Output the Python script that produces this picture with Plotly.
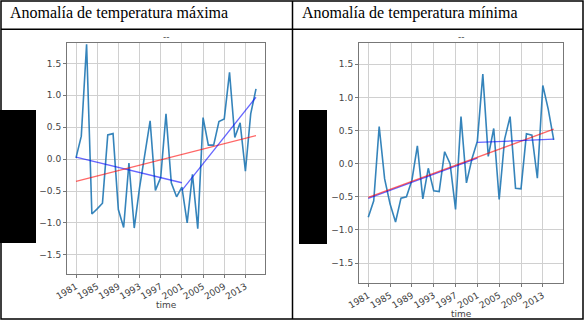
import plotly.graph_objects as go

W, H = 584, 321

years = list(range(1981, 2016))
tmax_anom = [0.02, 0.36, 1.80, -0.86, -0.78, -0.69, 0.38, 0.40, -0.79, -1.07,
             -0.06, -1.08, -0.45, 0.05, 0.60, -0.49, -0.29, 0.71, -0.37, -0.59,
             -0.44, -1.00, -0.24, -1.09, 0.65, 0.22, 0.22, 0.59, 0.63, 1.36,
             0.34, 0.57, -0.19, 0.71, 1.10]
tmin_anom = [-0.81, -0.56, 0.56, -0.23, -0.61, -0.88, -0.52, -0.50, -0.25, 0.27,
             -0.53, -0.07, -0.41, -0.42, 0.18, 0.00, -0.69, 0.71, -0.29, 0.07,
             0.34, 1.35, 0.11, 0.53, -0.54, 0.37, 0.71, -0.37, -0.38, 0.45,
             0.43, -0.22, 1.18, 0.82, 0.36]

# trend lines (endpoints)
tmax_trend_x = [1981, 2015]
tmax_trend_y = [-0.35, 0.37]
tmax_seg1_x = [1981, 2001]
tmax_seg1_y = [0.03, -0.37]
tmax_seg2_x = [2001, 2015]
tmax_seg2_y = [-0.49, 0.97]

tmin_trend_x = [1981, 2015]
tmin_trend_y = [-0.51, 0.52]
tmin_seg1_x = [1981, 2001]
tmin_seg1_y = [-0.525, 0.085]
tmin_seg2_x = [2001, 2015]
tmin_seg2_y = [0.32, 0.37]

xtick_vals = [1981, 1985, 1989, 1993, 1997, 2001, 2005, 2009, 2013]
ytick_vals = [-1.5, -1.0, -0.5, 0.0, 0.5, 1.0, 1.5]
ytick_text = ["\u22121.5", "\u22121.0", "\u22120.5", "0.0", "0.5", "1.0", "1.5"]

headers = ["Anomalía de temperatura máxima", "Anomalía de temperatura mínima"]

def px(x):
    return x / W

def py(y):
    return 1 - y / H

fig = go.Figure()

panels = [
    (tmax_anom, tmax_trend_x, tmax_trend_y, tmax_seg1_x, tmax_seg1_y, tmax_seg2_x, tmax_seg2_y, "x", "y"),
    (tmin_anom, tmin_trend_x, tmin_trend_y, tmin_seg1_x, tmin_seg1_y, tmin_seg2_x, tmin_seg2_y, "x2", "y2"),
]
for vals, tx, ty, s1x, s1y, s2x, s2y, xa, ya in panels:
    fig.add_trace(go.Scatter(x=years, y=vals, mode="lines", xaxis=xa, yaxis=ya,
                             line=dict(color="rgba(31,119,180,0.9)", width=1.6), showlegend=False))
    fig.add_trace(go.Scatter(x=s1x, y=s1y, mode="lines", xaxis=xa, yaxis=ya,
                             line=dict(color="rgba(0,0,255,0.6)", width=1.3), showlegend=False))
    fig.add_trace(go.Scatter(x=tx, y=ty, mode="lines", xaxis=xa, yaxis=ya,
                             line=dict(color="rgba(255,0,0,0.6)", width=1.3), showlegend=False))
    fig.add_trace(go.Scatter(x=s2x, y=s2y, mode="lines", xaxis=xa, yaxis=ya,
                             line=dict(color="rgba(0,0,255,0.6)", width=1.3), showlegend=False))

axfont = dict(family="DejaVu Sans", size=9, color="#444")
common_x = dict(range=[1979.3, 2016.7], tickvals=xtick_vals, tickangle=-30, automargin=False,
                showgrid=True, gridcolor="#d0d0d0", gridwidth=1,
                showline=True, mirror=True, linecolor="#777", linewidth=1,
                ticks="outside", ticklen=3, tickcolor="#777", tickfont=axfont, zeroline=False)
common_y = dict(range=[-1.80, 1.82], tickvals=ytick_vals, ticktext=ytick_text, automargin=False,
                showgrid=True, gridcolor="#d0d0d0", gridwidth=1,
                showline=True, mirror=True, linecolor="#777", linewidth=1,
                ticks="outside", ticklen=3, tickcolor="#777", tickfont=axfont, zeroline=False)

fig.update_layout(
    width=W, height=H, margin=dict(l=0, r=0, t=0, b=0, pad=0, autoexpand=False),
    paper_bgcolor="white", plot_bgcolor="white",
    xaxis=dict(domain=[px(67), px(265)], anchor="y", **common_x),
    yaxis=dict(domain=[py(274), py(43)], anchor="x", **common_y),
    xaxis2=dict(domain=[px(359), px(563)], anchor="y2", **common_x),
    yaxis2=dict(domain=[py(283), py(43)], anchor="x2", **common_y),
)

shapes = []
# table borders
line = dict(color="black", width=1.5)
shapes.append(dict(type="rect", xref="paper", yref="paper", x0=px(1), x1=px(583), y0=py(319), y1=py(1), line=line))
shapes.append(dict(type="line", xref="paper", yref="paper", x0=px(292.5), x1=px(292.5), y0=py(319), y1=py(1), line=line))
shapes.append(dict(type="line", xref="paper", yref="paper", x0=px(1), x1=px(583), y0=py(29.3), y1=py(29.3), line=line))
# black boxes
shapes.append(dict(type="rect", xref="paper", yref="paper", x0=px(0), x1=px(36), y0=py(243), y1=py(110),
                   fillcolor="black", line=dict(width=0)))
shapes.append(dict(type="rect", xref="paper", yref="paper", x0=px(299), x1=px(327), y0=py(244), y1=py(110),
                   fillcolor="black", line=dict(width=0)))
fig.update_layout(shapes=shapes)

ann = []
serif = dict(family="Liberation Serif, Times New Roman, serif", size=16, color="black")
ann.append(dict(text=headers[0], x=px(8), y=py(13), xref="paper", yref="paper",
                xanchor="left", yanchor="middle", showarrow=False, font=serif))
ann.append(dict(text=headers[1], x=px(300), y=py(13), xref="paper", yref="paper",
                xanchor="left", yanchor="middle", showarrow=False, font=serif))
small = dict(family="DejaVu Sans", size=9, color="#444")
ann.append(dict(text="--", x=px(166), y=py(37), xref="paper", yref="paper",
                xanchor="center", yanchor="middle", showarrow=False, font=small))
ann.append(dict(text="--", x=px(461), y=py(37), xref="paper", yref="paper",
                xanchor="center", yanchor="middle", showarrow=False, font=small))
ann.append(dict(text="time", x=px(166), y=py(305), xref="paper", yref="paper",
                xanchor="center", yanchor="middle", showarrow=False, font=small))
ann.append(dict(text="time", x=px(461), y=py(314), xref="paper", yref="paper",
                xanchor="center", yanchor="middle", showarrow=False, font=small))
fig.update_layout(annotations=ann)

fig.write_html("out.html", config={"displayModeBar": False},
               post_script="document.body.style.margin='0';document.body.style.padding='0';document.body.style.overflow='hidden';")
